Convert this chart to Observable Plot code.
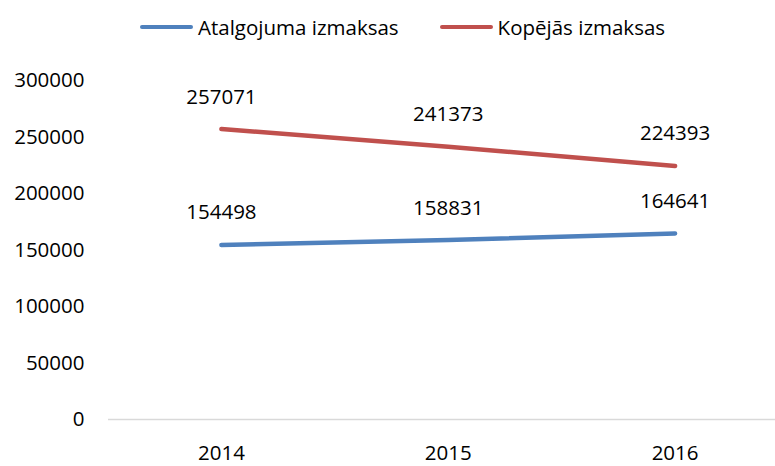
<!DOCTYPE html>
<html>
<head>
<meta charset="utf-8">
<script src="https://cdn.jsdelivr.net/npm/d3@7"></script>
<script src="https://cdn.jsdelivr.net/npm/@observablehq/plot@0.6"></script>
<style>
  html, body { margin: 0; padding: 0; background: #fff; overflow: hidden; }
  body { width: 775px; height: 466px; font-family: "Open Sans", sans-serif; }
  #legend { height: 54px; display: flex; align-items: center; padding-left: 140px; box-sizing: border-box; font-size: 20.5px; color: #000; }
  .item { display: flex; align-items: center; }
  .swatch { width: 53px; height: 4px; border-radius: 2px; margin-right: 5px; }
  .item + .item { margin-left: 41px; }
</style>
</head>
<body>
<div id="legend"></div>
<div id="chart"></div>
<script>
const years = [2014, 2015, 2016];
const series = ["Atalgojuma izmaksas", "Kopējās izmaksas"];
const atalgojumaIzmaksas = [154498, 158831, 164641];
const kopejasIzmaksas = [257071, 241373, 224393];
const colors = ["#4f81bd", "#c0504d"];
const yTicks = [0, 50000, 100000, 150000, 200000, 250000, 300000];

const data = [];
years.forEach((yr, i) => data.push({year: yr, series: series[0], value: atalgojumaIzmaksas[i]}));
years.forEach((yr, i) => data.push({year: yr, series: series[1], value: kopejasIzmaksas[i]}));

// legend
const legend = document.getElementById("legend");
series.forEach((s, i) => {
  const item = document.createElement("div");
  item.className = "item";
  const sw = document.createElement("span");
  sw.className = "swatch";
  sw.style.background = colors[i];
  const t = document.createElement("span");
  t.textContent = s;
  item.appendChild(sw);
  item.appendChild(t);
  legend.appendChild(item);
});

const chart = Plot.plot({
  width: 775,
  height: 412,
  marginLeft: 108,
  marginRight: 0,
  marginTop: 26,
  marginBottom: 47,
  style: {fontFamily: "Open Sans", fontSize: "20.5px", color: "#000", background: "#fff"},
  x: {type: "linear", domain: [2013.5, 2016.5], range: [107.5, 788]},
  y: {domain: [0, 300000]},
  color: {domain: series, range: colors},
  marks: [
    Plot.ruleY([0], {stroke: "#d9d9d9", strokeWidth: 1.5}),
    Plot.axisY({ticks: yTicks, tickFormat: d3.format("d"), tickSize: 0, tickPadding: 24, label: null}),
    Plot.axisX({ticks: years, tickFormat: d3.format("d"), tickSize: 0, tickPadding: 26, label: null}),
    Plot.line(data, {x: "year", y: "value", z: "series", stroke: "series", strokeWidth: 4.5, strokeLinecap: "round", strokeLinejoin: "round"}),
    Plot.text(data, {x: "year", y: "value", text: d => String(d.value), dy: -32, fill: "#000", fontSize: 20.5})
  ]
});
document.getElementById("chart").appendChild(chart);
</script>
</body>
</html>
